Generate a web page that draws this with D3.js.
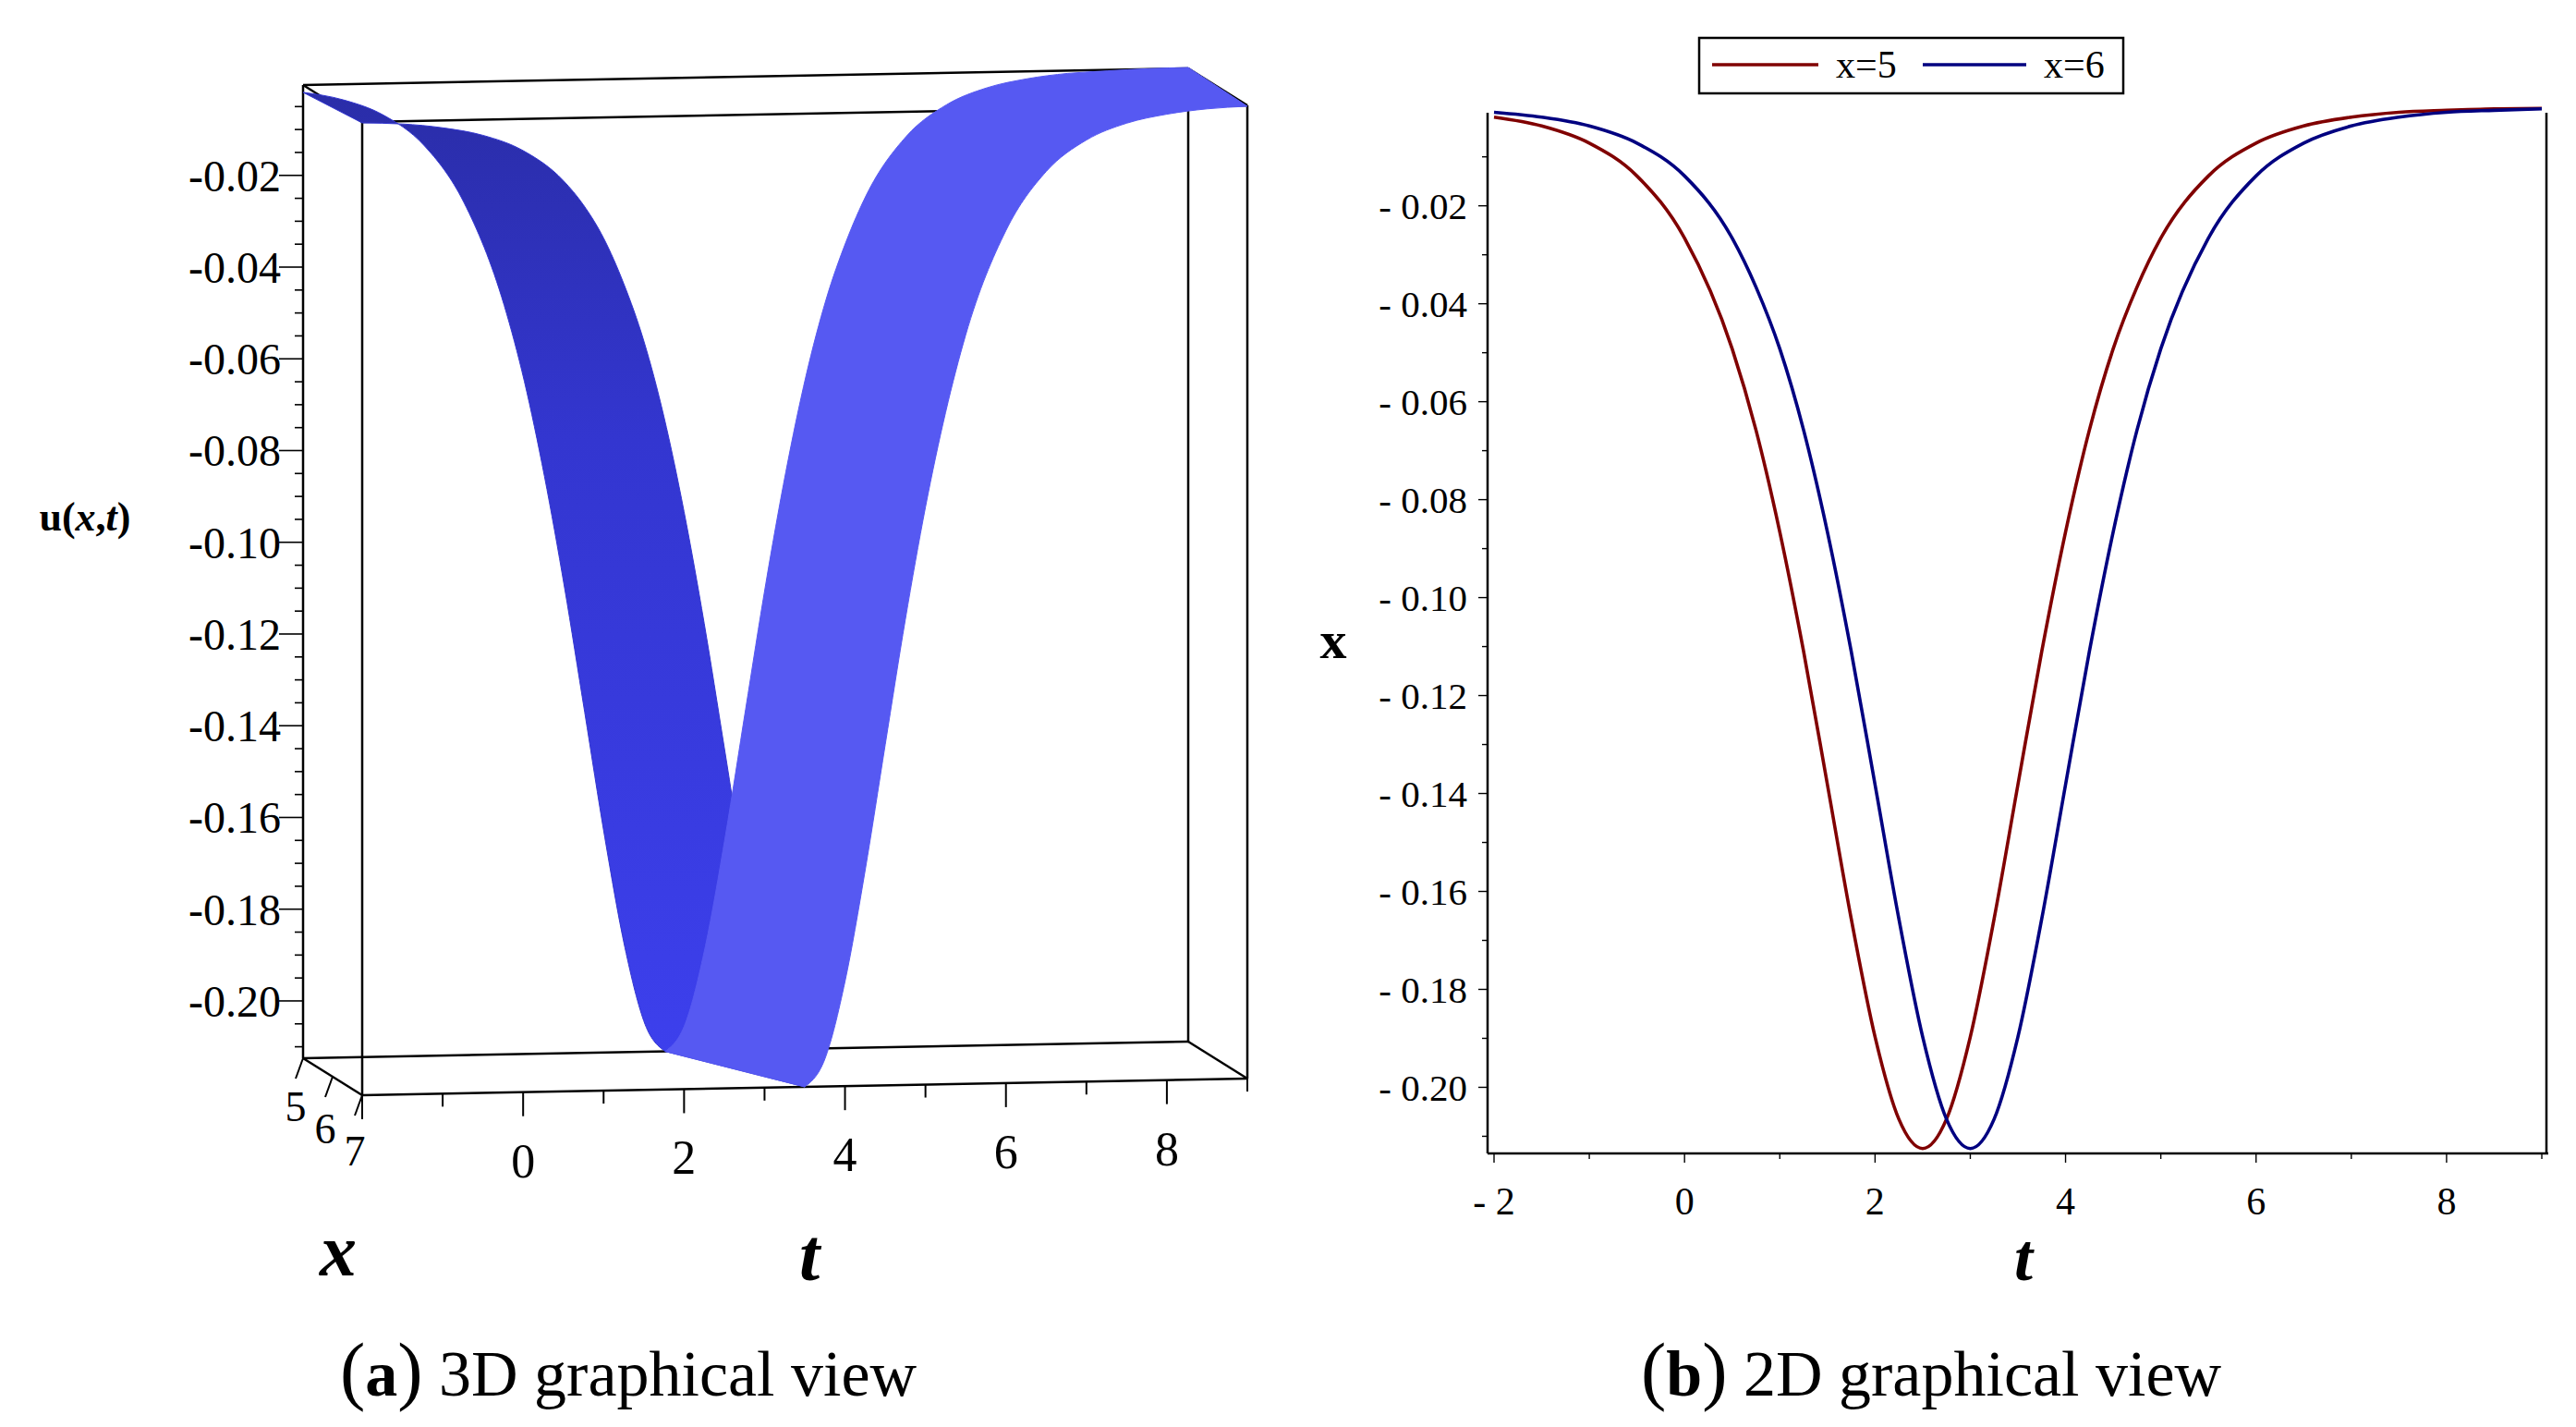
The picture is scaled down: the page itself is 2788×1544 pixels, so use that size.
<!DOCTYPE html>
<html><head><meta charset="utf-8">
<script src="https://cdn.jsdelivr.net/npm/d3@7"></script>
<style>body{margin:0;background:#fff}svg{display:block}text{font-family:"Liberation Serif",serif}</style>
</head><body>
<svg id="c" width="2788" height="1544"></svg>
<script>
const tGrid=[-2,-1.5,-1,-0.5,0,0.5,0.75,1,1.25,1.5,1.75,2,2.25,2.5,2.75,3,3.25,3.5,3.75,4,4.25,4.5,4.75,5,5.5,6,6.5,7,7.5,8,8.5,9];
const u5=[-0.0019,-0.0037,-0.0072,-0.0139,-0.0266,-0.0492,-0.0658,-0.0866,-0.1110,-0.1382,-0.1656,-0.1897,-0.2065,-0.2125,-0.2065,-0.1897,-0.1656,-0.1382,-0.1110,-0.0866,-0.0658,-0.0492,-0.0366,-0.0266,-0.0139,-0.0072,-0.0037,-0.0019,-0.0009,-0.0005,-0.0002,-0.0001];
const u6=[-0.0009,-0.0019,-0.0037,-0.0072,-0.0139,-0.0266,-0.0366,-0.0492,-0.0658,-0.0866,-0.1110,-0.1382,-0.1656,-0.1897,-0.2065,-0.2125,-0.2065,-0.1897,-0.1656,-0.1382,-0.1110,-0.0866,-0.0658,-0.0492,-0.0266,-0.0139,-0.0072,-0.0037,-0.0019,-0.0009,-0.0005,-0.0002];
const u7=[-0.0005,-0.0009,-0.0019,-0.0037,-0.0072,-0.0139,-0.0193,-0.0266,-0.0366,-0.0492,-0.0658,-0.0866,-0.1110,-0.1382,-0.1656,-0.1897,-0.2065,-0.2125,-0.2065,-0.1897,-0.1656,-0.1382,-0.1110,-0.0866,-0.0492,-0.0266,-0.0139,-0.0072,-0.0037,-0.0019,-0.0009,-0.0005];
const xSlices=[5,6,7];
const uTicks=[-0.02,-0.04,-0.06,-0.08,-0.10,-0.12,-0.14,-0.16,-0.18,-0.20];
const tTicks=[-2,0,2,4,6,8];
const legendLabels=["x=5","x=6"];
const colors=["#800000","#000080"];

const svg=d3.select("#c");
const defs=svg.append("defs");
const gr=defs.append("linearGradient").attr("id","dk").attr("x1",0).attr("y1",0).attr("x2",0).attr("y2",1);
gr.append("stop").attr("offset","0%").attr("stop-color","#2a2da8");
gr.append("stop").attr("offset","35%").attr("stop-color","#3336d0");
gr.append("stop").attr("offset","100%").attr("stop-color","#3d40ee");

// ---------- Right 2D panel ----------
const L=1610,R=2756,T=122,B=1248;
const x2=d3.scaleLinear().domain([-2,9]).range([1617,2751]);
const y2=d3.scaleLinear().domain([-0.2135,-0.001]).range([B,T]);
const g2=svg.append("g");
const line=d3.line().x((d,i)=>x2(tGrid[i])).y(d=>y2(d)).curve(d3.curveMonotoneX);
[u5,u6].forEach((s,i)=>g2.append("path").attr("d",line(s)).attr("fill","none").attr("stroke",colors[i]).attr("stroke-width",3.6));
g2.append("line").attr("x1",L).attr("x2",L).attr("y1",T).attr("y2",B).attr("stroke","#000").attr("stroke-width",2.5);
g2.append("line").attr("x1",L).attr("x2",R+2).attr("y1",B).attr("y2",B).attr("stroke","#000").attr("stroke-width",2.5);
g2.append("line").attr("x1",R).attr("x2",R).attr("y1",T).attr("y2",B).attr("stroke","#000").attr("stroke-width",2.5);
d3.range(-0.21,-0.001,0.01).forEach(v=>{const major=Math.abs(Math.round(v*100))%2===0;
 g2.append("line").attr("x1",L).attr("x2",L-(major?10:6)).attr("y1",y2(v)).attr("y2",y2(v)).attr("stroke","#000").attr("stroke-width",1.4);});
uTicks.forEach(v=>g2.append("text").attr("x",L-22).attr("y",y2(v)).attr("dy","0.35em").attr("text-anchor","end").attr("font-size",41).text("- "+Math.abs(v).toFixed(2)));
d3.range(-2,10,1).forEach(v=>{const major=v%2===0;
 g2.append("line").attr("x1",x2(v)).attr("x2",x2(v)).attr("y1",B).attr("y2",B+(major?10:6)).attr("stroke","#000").attr("stroke-width",1.4);});
tTicks.forEach(v=>g2.append("text").attr("x",x2(v)).attr("y",1314).attr("text-anchor","middle").attr("font-size",42).text(v<0?"- "+Math.abs(v):v));
g2.append("text").attr("x",1443).attr("y",712).attr("font-size",58).attr("font-weight","bold").attr("text-anchor","middle").text("x");
g2.append("text").attr("x",2190).attr("y",1385).attr("font-size",72).attr("font-weight","bold").attr("font-style","italic").attr("text-anchor","middle").text("t");
g2.append("rect").attr("x",1839).attr("y",41).attr("width",459).attr("height",60).attr("fill","#fff").attr("stroke","#000").attr("stroke-width",2.5);
[[1853,1968,1987],[2081,2193,2212]].forEach((p,i)=>{
 g2.append("line").attr("x1",p[0]).attr("x2",p[1]).attr("y1",70).attr("y2",70).attr("stroke",colors[i]).attr("stroke-width",3.6);
 g2.append("text").attr("x",p[2]).attr("y",84).attr("font-size",42).text(legendLabels[i]);});

// ---------- Left 3D panel ----------
const xf=d3.scaleLinear().domain([-2,9]).range([392,1350]);
const yb=d3.scaleLinear().domain([-0.2125,-0.0003]).range([1145,92]);
const P=(t,x,u)=>[xf(t)-(7-x)*32,yb(u)+(x-5)*20-(t+2)/11*18];
const g1=svg.append("g");
const uT=-0.0003,uB=-0.2125;
const box=[[[-2,5,uT],[9,5,uT]],[[-2,5,uB],[9,5,uB]],[[-2,5,uT],[-2,5,uB]],[[9,5,uT],[9,5,uB]],
 [[-2,7,uT],[9,7,uT]],[[-2,7,uB],[9,7,uB]],[[-2,7,uT],[-2,7,uB]],[[9,7,uT],[9,7,uB]],
 [[-2,5,uT],[-2,7,uT]],[[9,5,uT],[9,7,uT]],[[-2,5,uB],[-2,7,uB]],[[9,5,uB],[9,7,uB]]];
box.forEach(e=>{const a=P(...e[0]),b=P(...e[1]);
 g1.append("line").attr("x1",a[0]).attr("y1",a[1]).attr("x2",b[0]).attr("y2",b[1]).attr("stroke","#000").attr("stroke-width",2.5);});
const pl=d3.line().curve(d3.curveMonotoneX);
const slc=[u5,u6,u7];
const minIdx=s=>s.indexOf(d3.min(s));
const pts=(s,x,i0,i1)=>d3.range(i0,i1+1).map(i=>P(tGrid[i],x,s[i]));
const back=slc[0],front=slc[2],n=tGrid.length-1;
const mb=minIdx(back),mf=minIdx(front);
const desc=pl(pts(back,5,0,mb))+"L"+pl(pts(front,7,0,mf).reverse()).slice(1)+"Z";
const asc=pl(pts(back,5,mb,n))+"L"+pl(pts(front,7,mf,n).reverse()).slice(1)+"Z";
g1.append("path").attr("d",desc).attr("fill","url(#dk)").attr("stroke","#3336d0").attr("stroke-width",1);
g1.append("path").attr("d",asc).attr("fill","#5659f2").attr("stroke","#5659f2").attr("stroke-width",1);
const ax=P(-2,5,0)[0];
d3.range(-0.21,-0.001,0.005).forEach(v=>{const k=Math.round(-v*1000);const major=k%20===0;
 const yy=P(-2,5,v)[1]; g1.append("line").attr("x1",ax).attr("x2",ax-(major?26:9)).attr("y1",yy).attr("y2",yy).attr("stroke","#000").attr("stroke-width",1.6);});
uTicks.forEach(v=>g1.append("text").attr("x",ax-24).attr("y",P(-2,5,v)[1]).attr("dy","0.35em").attr("text-anchor","end").attr("font-size",48).text("-"+Math.abs(v).toFixed(2)));
g1.append("text").attr("x",92).attr("y",574).attr("font-size",44).attr("font-weight","bold").attr("text-anchor","middle").html('u(<tspan font-style="italic">x</tspan>,<tspan font-style="italic">t</tspan>)');
d3.range(-2,10,1).forEach(v=>{const p=P(v,7,uB);const major=v%2===0;
 g1.append("line").attr("x1",p[0]).attr("x2",p[0]).attr("y1",p[1]).attr("y2",p[1]+(major?26:14)).attr("stroke","#000").attr("stroke-width",2);});
tTicks.filter(v=>v>-2).forEach(v=>{const p=P(v,7,uB);g1.append("text").attr("x",p[0]).attr("y",p[1]+92).attr("text-anchor","middle").attr("font-size",52).text(v);});
xSlices.forEach(v=>{const p=P(-2,v,uB);
 g1.append("line").attr("x1",p[0]).attr("x2",p[0]-8).attr("y1",p[1]).attr("y2",p[1]+22).attr("stroke","#000").attr("stroke-width",2);
 g1.append("text").attr("x",p[0]-8).attr("y",p[1]+68+(v-5)*4).attr("text-anchor","middle").attr("font-size",46).text(v);});
g1.append("text").attr("x",366).attr("y",1380).attr("font-size",80).attr("font-weight","bold").attr("font-style","italic").attr("text-anchor","middle").text("x");
g1.append("text").attr("x",876).attr("y",1385).attr("font-size",80).attr("font-weight","bold").attr("font-style","italic").attr("text-anchor","middle").text("t");

[[680,"a","3D graphical view"],[2090,"b","2D graphical view"]].forEach(c=>{
 svg.append("text").attr("x",c[0]).attr("y",1510).attr("text-anchor","middle").attr("font-size",70).attr("font-family","'DejaVu Serif',serif")
 .html('<tspan font-size="82">(</tspan><tspan font-weight="bold">'+c[1]+'</tspan><tspan font-size="82">)</tspan> '+c[2]);});
</script></body></html>
